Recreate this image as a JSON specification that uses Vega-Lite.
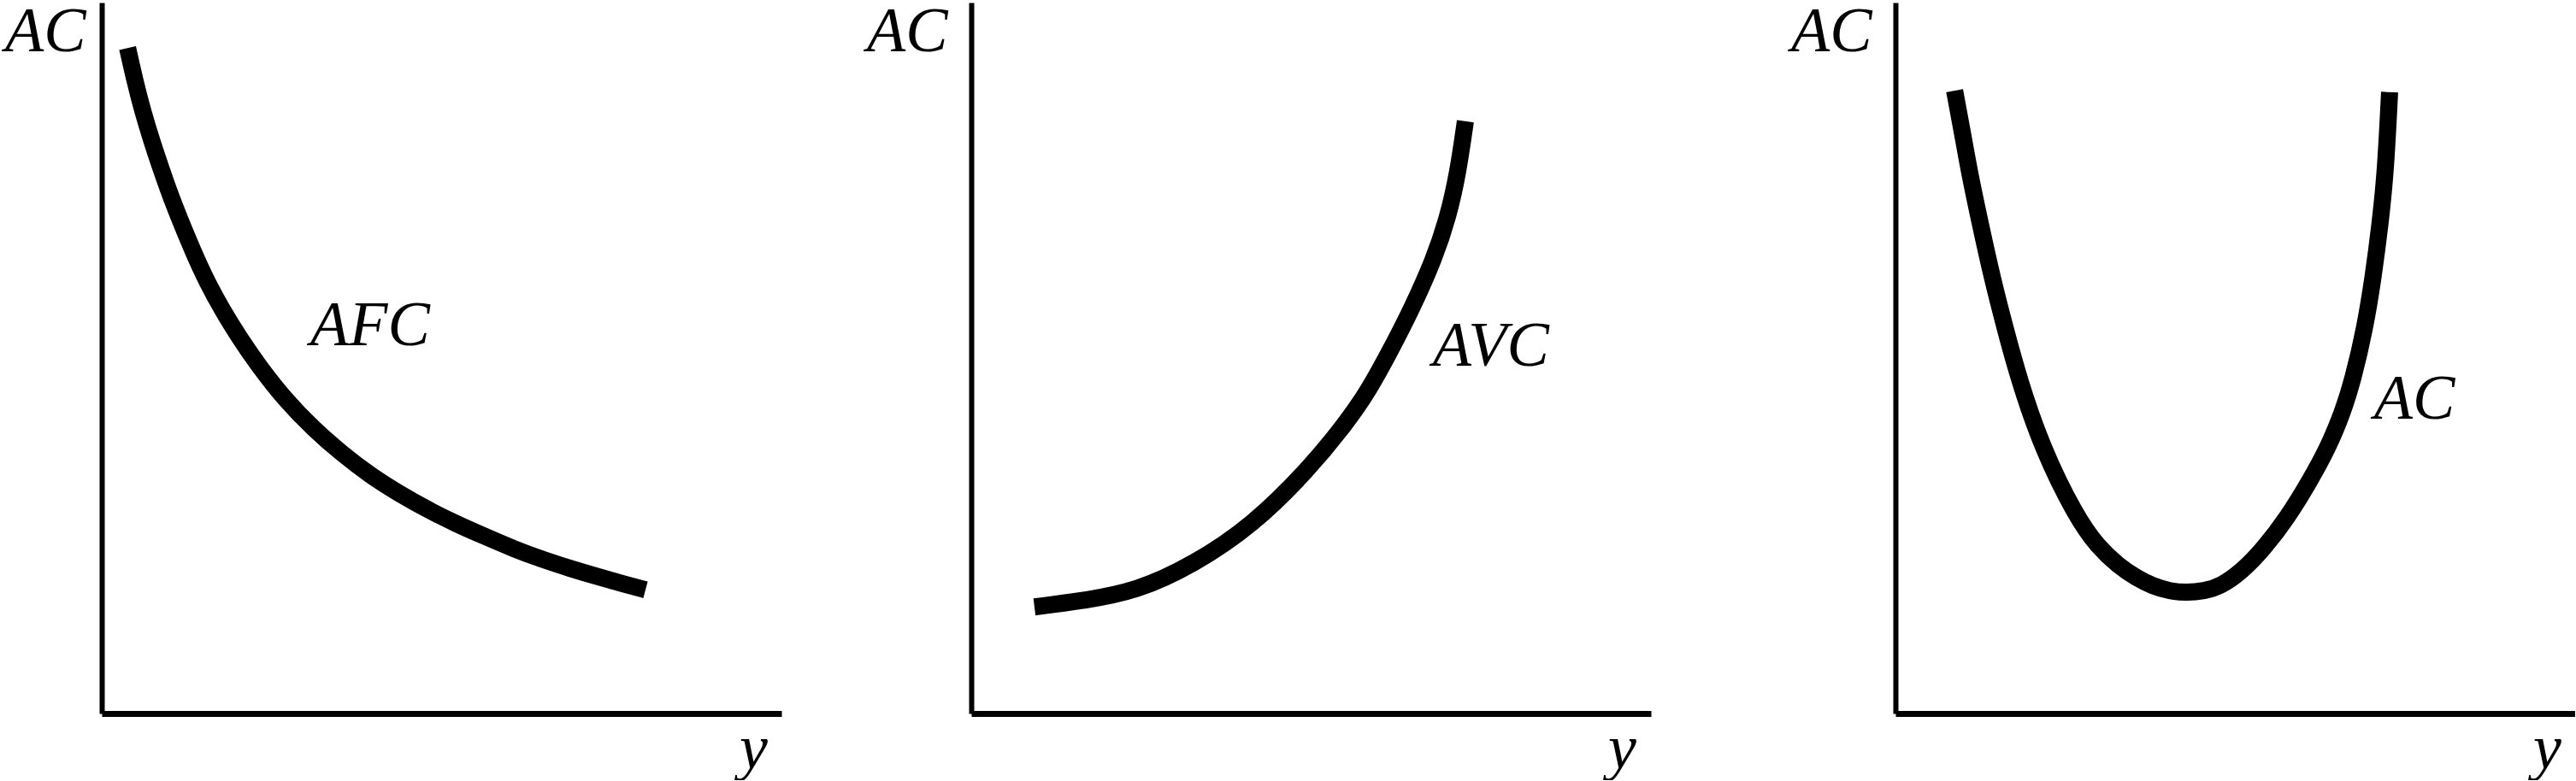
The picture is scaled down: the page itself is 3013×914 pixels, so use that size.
{
  "$schema": "https://vega.github.io/schema/vega-lite/v6.json",
  "background": "white",
  "padding": {"left": 5, "top": 0, "right": 0, "bottom": 0},
  "config": {
    "view": {"stroke": null},
    "axis": {
      "ticks": false, "labels": false, "grid": false,
      "domainColor": "black", "domainCap": "butt",
      "titleFont": "Liberation Serif", "titleFontStyle": "italic", "titleFontWeight": "normal",
      "titleFontSize": 74, "titleColor": "black", "titlePadding": 0
    }
  },
  "datasets": {
    "afc": [
      {"q": 3.8, "c": 93.6}, {"q": 4.9, "c": 88.9}, {"q": 6.0, "c": 84.8}, {"q": 7.4, "c": 80.4},
      {"q": 8.7, "c": 76.7}, {"q": 10.4, "c": 72.0}, {"q": 13.6, "c": 64.6}, {"q": 15.5, "c": 60.7},
      {"q": 17.7, "c": 56.8}, {"q": 20.3, "c": 52.8}, {"q": 22.8, "c": 49.3}, {"q": 26.9, "c": 44.2},
      {"q": 31.2, "c": 40.0}, {"q": 35.4, "c": 36.5}, {"q": 39.5, "c": 33.5}, {"q": 43.8, "c": 30.9},
      {"q": 47.9, "c": 28.7}, {"q": 52.1, "c": 26.7}, {"q": 56.4, "c": 24.9}, {"q": 60.5, "c": 23.2},
      {"q": 64.7, "c": 21.7}, {"q": 68.9, "c": 20.4}, {"q": 73.1, "c": 19.2}, {"q": 76.9, "c": 18.2},
      {"q": 80.0, "c": 17.4}
    ],
    "avc": [
      {"q": 9.3, "c": 15.0}, {"q": 16.1, "c": 15.8}, {"q": 24.4, "c": 17.2}, {"q": 32.8, "c": 21.0},
      {"q": 41.3, "c": 26.4}, {"q": 49.6, "c": 34.3}, {"q": 55.1, "c": 40.8}, {"q": 58.4, "c": 45.3},
      {"q": 61.8, "c": 51.3}, {"q": 64.7, "c": 56.7}, {"q": 68.1, "c": 63.9}, {"q": 70.2, "c": 70.0},
      {"q": 71.6, "c": 76.0}, {"q": 72.7, "c": 83.3}
    ],
    "ac": [
      {"q": 8.7, "c": 87.6}, {"q": 9.8, "c": 82.0}, {"q": 10.9, "c": 76.0}, {"q": 12.5, "c": 68.8},
      {"q": 14.2, "c": 61.4}, {"q": 16.1, "c": 54.3}, {"q": 18.2, "c": 46.9}, {"q": 21.6, "c": 37.3},
      {"q": 26.5, "c": 27.8}, {"q": 29.8, "c": 23.4}, {"q": 32.8, "c": 20.8}, {"q": 35.4, "c": 19.1},
      {"q": 37.9, "c": 17.9}, {"q": 40.4, "c": 17.2}, {"q": 42.8, "c": 17.0}, {"q": 45.4, "c": 17.2},
      {"q": 47.9, "c": 17.9}, {"q": 51.1, "c": 20.1}, {"q": 54.2, "c": 23.2}, {"q": 57.7, "c": 27.6},
      {"q": 60.9, "c": 32.6}, {"q": 63.6, "c": 37.3}, {"q": 65.7, "c": 42.1}, {"q": 67.3, "c": 46.9},
      {"q": 69.1, "c": 54.3}, {"q": 70.3, "c": 61.4}, {"q": 71.3, "c": 68.8}, {"q": 72.1, "c": 76.0},
      {"q": 72.7, "c": 87.4}
    ],
    "afcLabel": [{"q": 30.7, "c": 51.8, "label": "AFC"}],
    "avcLabel": [{"q": 67.9, "c": 48.9, "label": "AVC"}],
    "acLabel": [{"q": 70.4, "c": 41.5, "label": "AC"}]
  },
  "spacing": 163,
  "hconcat": [
    {
      "spacing": 99,
      "hconcat": [
        {
          "width": 795, "height": 832,
          "encoding": {
            "x": {"field": "q", "type": "quantitative", "scale": {"domain": [0, 100], "nice": false, "zero": false},
                  "axis": {"title": "y", "titleX": 762, "titleY": 63, "titleAlign": "center", "titleBaseline": "alphabetic", "domainWidth": 7}},
            "y": {"field": "c", "type": "quantitative", "scale": {"domain": [0, 100], "nice": false, "zero": false},
                  "axis": {"title": "AC", "titleAngle": 0, "titleX": -19, "titleY": 56, "titleAlign": "right", "titleBaseline": "alphabetic", "domainWidth": 6}}
          },
          "layer": [
            {"data": {"name": "afc"}, "mark": {"type": "line", "interpolate": "basis", "color": "black", "strokeWidth": 20, "strokeCap": "butt", "strokeJoin": "round"}},
            {"data": {"name": "afcLabel"}, "mark": {"type": "text", "font": "Liberation Serif", "fontStyle": "italic", "fontSize": 74, "color": "black", "align": "left", "baseline": "alphabetic"}, "encoding": {"text": {"field": "label"}}}
          ]
        },
        {
          "width": 795, "height": 832,
          "encoding": {
            "x": {"field": "q", "type": "quantitative", "scale": {"domain": [0, 100], "nice": false, "zero": false},
                  "axis": {"title": "y", "titleX": 761, "titleY": 63, "titleAlign": "center", "titleBaseline": "alphabetic", "domainWidth": 7}},
            "y": {"field": "c", "type": "quantitative", "scale": {"domain": [0, 100], "nice": false, "zero": false},
                  "axis": {"title": "AC", "titleAngle": 0, "titleX": -28, "titleY": 56, "titleAlign": "right", "titleBaseline": "alphabetic", "domainWidth": 6}}
          },
          "layer": [
            {"data": {"name": "avc"}, "mark": {"type": "line", "interpolate": "basis", "color": "black", "strokeWidth": 20, "strokeCap": "butt", "strokeJoin": "round"}},
            {"data": {"name": "avcLabel"}, "mark": {"type": "text", "font": "Liberation Serif", "fontStyle": "italic", "fontSize": 74, "color": "black", "align": "left", "baseline": "alphabetic"}, "encoding": {"text": {"field": "label"}}}
          ]
        }
      ]
    },
    {
      "width": 795, "height": 832,
      "encoding": {
        "x": {"field": "q", "type": "quantitative", "scale": {"domain": [0, 100], "nice": false, "zero": false},
              "axis": {"title": "y", "titleX": 762, "titleY": 63, "titleAlign": "center", "titleBaseline": "alphabetic", "domainWidth": 7}},
        "y": {"field": "c", "type": "quantitative", "scale": {"domain": [0, 100], "nice": false, "zero": false},
              "axis": {"title": "AC", "titleAngle": 0, "titleX": -28, "titleY": 56, "titleAlign": "right", "titleBaseline": "alphabetic", "domainWidth": 6}}
      },
      "layer": [
        {"data": {"name": "ac"}, "mark": {"type": "line", "interpolate": "basis", "color": "black", "strokeWidth": 20, "strokeCap": "butt", "strokeJoin": "round"}},
        {"data": {"name": "acLabel"}, "mark": {"type": "text", "font": "Liberation Serif", "fontStyle": "italic", "fontSize": 74, "color": "black", "align": "left", "baseline": "alphabetic"}, "encoding": {"text": {"field": "label"}}}
      ]
    }
  ]
}
